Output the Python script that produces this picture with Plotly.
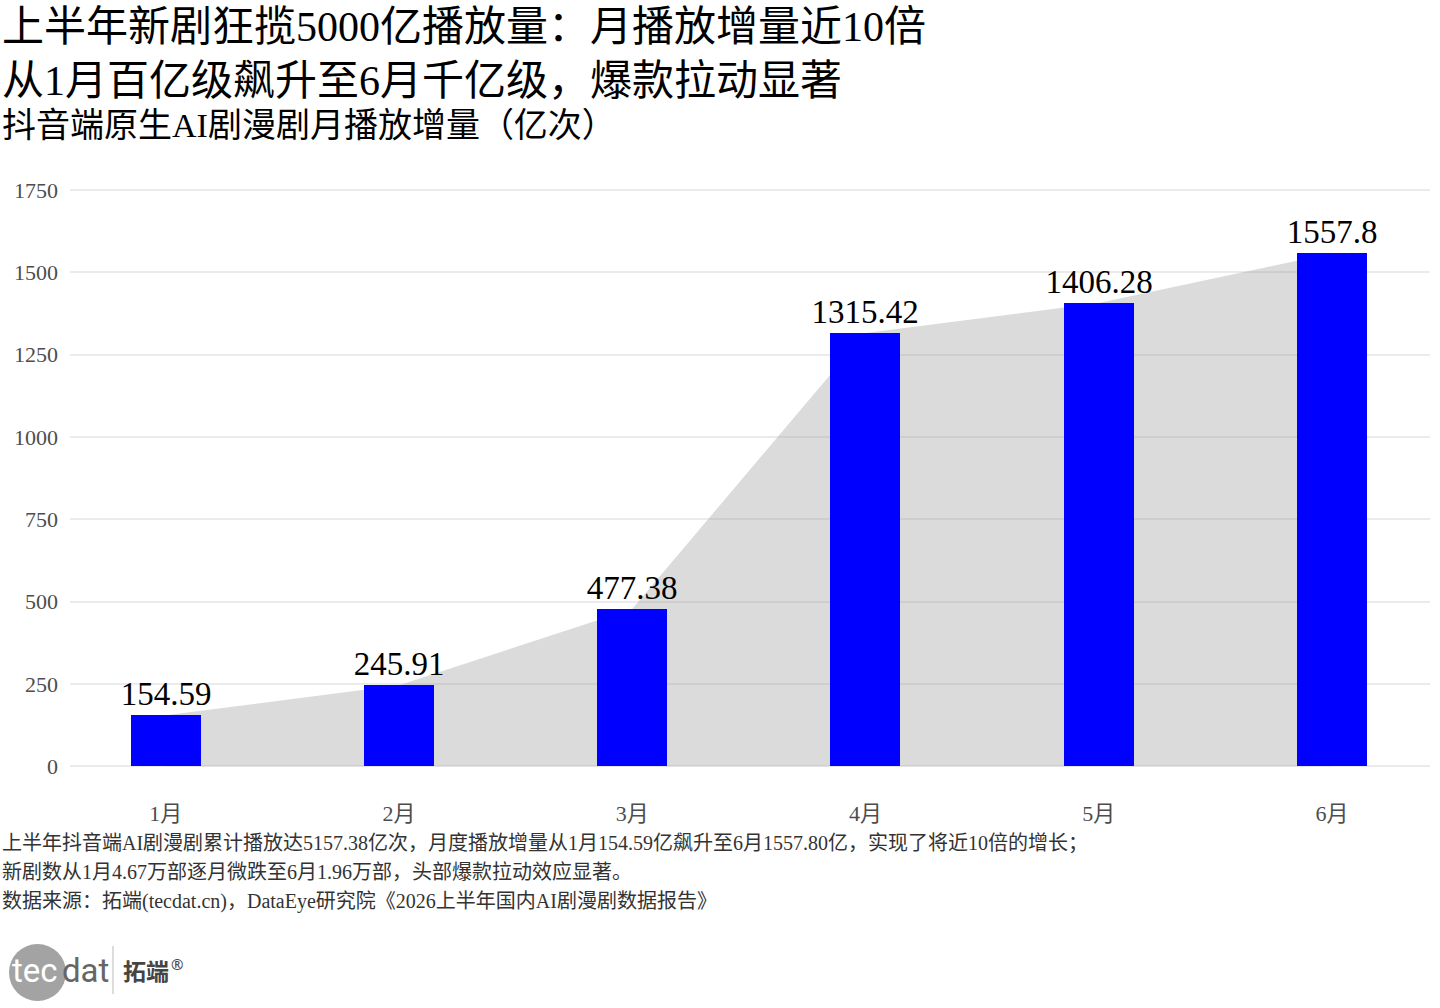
import plotly.graph_objects as go

months = ["1月", "2月", "3月", "4月", "5月", "6月"]
plays = [154.59, 245.91, 477.38, 1315.42, 1406.28, 1557.8]
bar_labels = ["154.59", "245.91", "477.38", "1315.42", "1406.28", "1557.8"]
y_ticks = [0, 250, 500, 750, 1000, 1250, 1500, 1750]

title1 = "上半年新剧狂揽5000亿播放量：月播放增量近10倍"
title2 = "从1月百亿级飙升至6月千亿级，爆款拉动显著"
subtitle = "抖音端原生AI剧漫剧月播放增量（亿次）"
notes = [
    "上半年抖音端AI剧漫剧累计播放达5157.38亿次，月度播放增量从1月154.59亿飙升至6月1557.80亿，实现了将近10倍的增长；",
    "新剧数从1月4.67万部逐月微跌至6月1.96万部，头部爆款拉动效应显著。",
    "数据来源：拓端(tecdat.cn)，DataEye研究院《2026上半年国内AI剧漫剧数据报告》",
]

FONT = "Liberation Serif, Noto Sans CJK SC, sans-serif"
W_PX, H_PX = 1440, 1008
L, R, T, B = 70, 10, 180, 222
PW = W_PX - L - R
PH = H_PX - T - B
XR = [-0.41, 5.42]
YR = [-60, 1780]


def px2x(px):
    return (px - L) / PW


def py2y(py):
    return (H_PX - B - py) / PH


fig = go.Figure()
# grey area (base axes, drawn underneath the bars)
fig.add_trace(go.Scatter(
    x=months, y=plays, mode="lines", line=dict(width=0, color="rgba(0,0,0,0)"),
    fill="tozeroy", fillcolor="rgba(160,160,160,0.38)", hoverinfo="skip", showlegend=False,
    xaxis="x", yaxis="y",
))
# bars (overlay axes, drawn on top)
fig.add_trace(go.Bar(
    x=months, y=plays, width=0.3, marker=dict(color="#0000ff", line=dict(width=0)),
    text=bar_labels, textposition="outside", texttemplate="%{text}", constraintext="none",
    textfont=dict(family=FONT, size=33, color="#000000"), cliponaxis=False, showlegend=False,
    xaxis="x2", yaxis="y2",
))

annotations = [
    dict(text=title1, x=px2x(0), y=py2y(27), xanchor="left", yanchor="middle",
         font=dict(family=FONT, size=42, color="#000000")),
    dict(text=title2, x=px2x(0), y=py2y(81), xanchor="left", yanchor="middle",
         font=dict(family=FONT, size=42, color="#000000")),
    dict(text=subtitle, x=px2x(0), y=py2y(125), xanchor="left", yanchor="middle",
         font=dict(family=FONT, size=34, color="#000000")),
]
for i, n in enumerate(notes):
    annotations.append(dict(text=n, x=px2x(0), y=py2y(843 + i * 29), xanchor="left", yanchor="middle",
                            font=dict(family=FONT, size=20, color="#333333")))

# logo
annotations += [
    dict(text="tec", x=px2x(10), y=py2y(970), xanchor="left", yanchor="middle",
         font=dict(family="Roboto, sans-serif", size=33, color="#ffffff")),
    dict(text="dat", x=px2x(60), y=py2y(970), xanchor="left", yanchor="middle",
         font=dict(family="Roboto, sans-serif", size=33, color="#666666")),
    dict(text="<b>拓端</b>", x=px2x(121), y=py2y(970), xanchor="left", yanchor="middle",
         font=dict(family="Noto Sans CJK SC, sans-serif", size=23, color="#444444")),
    dict(text="®", x=px2x(169), y=py2y(964), xanchor="left", yanchor="middle",
         font=dict(family="Noto Sans, sans-serif", size=15, color="#444444")),
]
for a in annotations:
    a.update(xref="paper", yref="paper", showarrow=False)

shapes = [
    dict(type="circle", xref="paper", yref="paper", x0=px2x(9), x1=px2x(66), y0=py2y(1001), y1=py2y(944),
         fillcolor="#a3a3a3", line=dict(width=0), layer="below"),
    dict(type="line", xref="paper", yref="paper", x0=px2x(113), x1=px2x(113), y0=py2y(946), y1=py2y(994),
         line=dict(color="#d0d0d0", width=1.5)),
]

fig.update_layout(
    width=W_PX, height=H_PX, margin=dict(l=L, r=R, t=T, b=B, autoexpand=False),
    paper_bgcolor="#ffffff", plot_bgcolor="#ffffff", bargap=0,
    annotations=annotations, shapes=shapes,
    xaxis=dict(type="category", categoryarray=months, range=XR, showgrid=False, showline=False, zeroline=False,
               ticks="outside", ticklen=8, tickcolor="rgba(0,0,0,0)",
               tickfont=dict(family=FONT, size=22, color="#4d4d4d")),
    yaxis=dict(range=YR, tickvals=y_ticks, showgrid=True, gridcolor="#ebebeb", gridwidth=1.5,
               zeroline=False, showline=False, ticklabelstandoff=11,
               tickfont=dict(family=FONT, size=22, color="#4d4d4d")),
    xaxis2=dict(type="category", categoryarray=months, range=XR, overlaying="x",
                showgrid=False, showline=False, zeroline=False, showticklabels=False, ticks=""),
    yaxis2=dict(range=YR, overlaying="y", showgrid=False, showline=False, zeroline=False,
                showticklabels=False, ticks=""),
)

fig.write_html("out.html", config={"displayModeBar": False},
               post_script="document.body.style.margin='0';document.body.style.overflow='hidden';")
